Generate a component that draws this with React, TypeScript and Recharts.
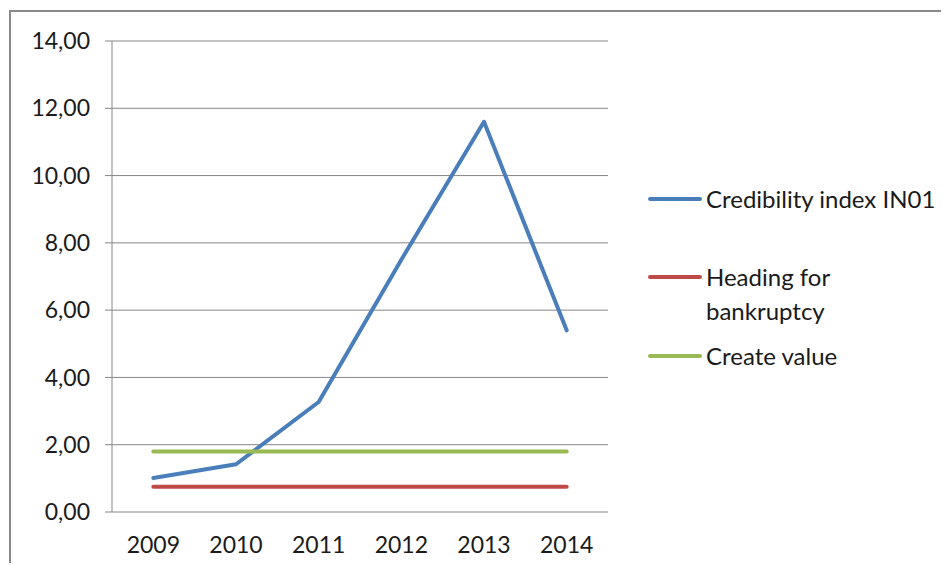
import React from 'react'
import { LineChart, Line, XAxis, YAxis, CartesianGrid } from 'recharts'

const years: string[] = ['2009', '2010', '2011', '2012', '2013', '2014']
const credibility: number[] = [1.01, 1.42, 3.27, 7.5, 11.6, 5.4]
const bankruptcy: number[] = [0.75, 0.75, 0.75, 0.75, 0.75, 0.75]
const createValue: number[] = [1.8, 1.8, 1.8, 1.8, 1.8, 1.8]
const yTicks: number[] = [0, 2, 4, 6, 8, 10, 12, 14]
const bandTicks: number[] = [0, 1, 2, 3, 4, 5, 6]

const series = [
  { key: 'credibility', name: 'Credibility index IN01', color: '#4a7ebb' },
  { key: 'bankruptcy', name: 'Heading for bankruptcy', color: '#be4b48' },
  { key: 'createValue', name: 'Create value', color: '#98b954' },
]

const data = years.map((year, i) => ({
  year,
  credibility: credibility[i],
  bankruptcy: bankruptcy[i],
  createValue: createValue[i],
}))

const font = 'Lato, "Liberation Sans", sans-serif'
const gridColor = '#868686'
const textColor = '#1a1a1a'
const legendGaps = [0, 44, 11]

const fmt = (v: number) => v.toFixed(2).replace('.', ',')

// legend drawn next to the chart, the way Excel places it
const ChartLegend: React.FC = () => (
  <div style={{ position: 'absolute', left: 648, top: 182, fontFamily: font, fontSize: 24, color: textColor }}>
    {series.map((s, i) => (
      <div key={s.key} style={{ display: 'flex', alignItems: 'flex-start', marginTop: legendGaps[i] }}>
        <div style={{ width: 54, height: 34, display: 'flex', alignItems: 'center', marginRight: 4 }}>
          <div style={{ width: 54, height: 4, borderRadius: 2, background: s.color }} />
        </div>
        <div style={{ width: 236, lineHeight: '34px' }}>{s.name}</div>
      </div>
    ))}
  </div>
)

const App: React.FC = () => {
  return (
    <div style={{ position: 'relative', margin: -8, width: 949, height: 571, overflow: 'hidden', background: '#fff' }}>
      <div style={{ position: 'absolute', left: 9, top: 10, width: 1200, height: 1200, border: '2px solid #8a8a8a' }} />
      <div style={{ position: 'absolute', left: 0, top: 0 }}>
        <LineChart width={949} height={571} data={data} margin={{ top: 41, right: 341, left: 0, bottom: 0 }}>
          <CartesianGrid horizontal vertical={false} stroke={gridColor} strokeWidth={1} xAxisId="cat" />
          <XAxis
            xAxisId="band"
            type="number"
            domain={[0, 6]}
            ticks={bandTicks}
            allowDataOverflow
            tick={false}
            tickSize={6}
            height={0}
            stroke={gridColor}
            axisLine={{ stroke: gridColor }}
            tickLine={{ stroke: gridColor }}
          />
          <XAxis
            xAxisId="cat"
            dataKey="year"
            padding={{ left: 41.33, right: 41.33 }}
            axisLine={false}
            tickLine={false}
            tickSize={0}
            tickMargin={25}
            height={59}
            tick={{ fill: textColor, fontSize: 23, fontFamily: font }}
          />
          <YAxis
            domain={[0, 14]}
            ticks={yTicks}
            width={112}
            tickFormatter={fmt}
            tickSize={7}
            tickMargin={15}
            stroke={gridColor}
            tick={{ fill: textColor, fontSize: 23, fontFamily: font }}
          />
          {series.map((s) => (
            <Line
              key={s.key}
              xAxisId="cat"
              type="linear"
              dataKey={s.key}
              name={s.name}
              stroke={s.color}
              strokeWidth={4}
              strokeLinecap="round"
              strokeLinejoin="round"
              dot={false}
              activeDot={false}
              isAnimationActive={false}
            />
          ))}
        </LineChart>
      </div>
      <ChartLegend />
    </div>
  )
}

export default App
